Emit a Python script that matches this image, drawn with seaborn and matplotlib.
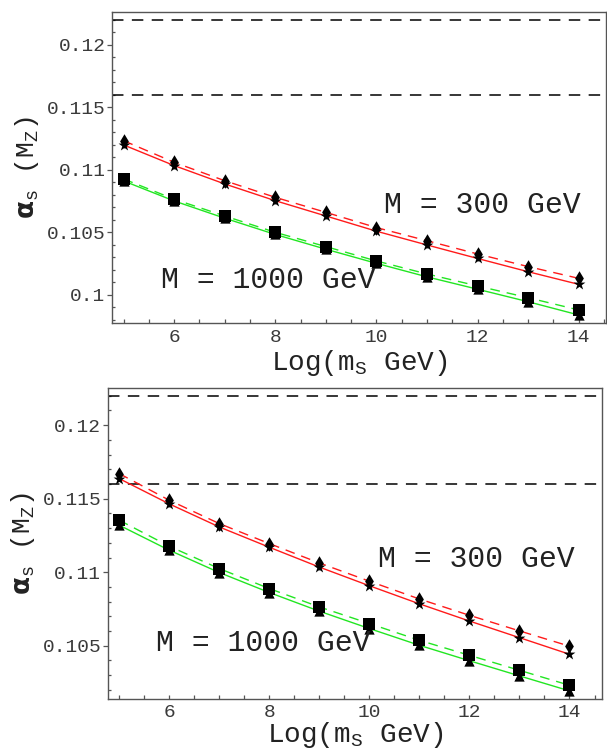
import numpy as np
import pandas as pd
import matplotlib
matplotlib.use("Agg")
import matplotlib.pyplot as plt
import seaborn as sns
from matplotlib.ticker import MultipleLocator

# ---------------- data ----------------
log_ms = [5, 6, 7, 8, 9, 10, 11, 12, 13, 14]

# upper panel
top_diamond = [0.11234, 0.11061, 0.10914, 0.10781, 0.10661, 0.10539, 0.10434, 0.10328, 0.10227, 0.10133]
top_star = [0.11200, 0.11035, 0.10888, 0.10754, 0.10632, 0.10510, 0.10400, 0.10292, 0.10186, 0.10085]
top_square = [0.10928, 0.10766, 0.10632, 0.10501, 0.10387, 0.10272, 0.10168, 0.10072, 0.09978, 0.09880]
top_triangle = [0.10912, 0.10752, 0.10614, 0.10484, 0.10366, 0.10253, 0.10145, 0.10046, 0.09946, 0.09840]

# lower panel
bot_diamond = [0.11671, 0.11490, 0.11331, 0.11195, 0.11063, 0.10939, 0.10818, 0.10707, 0.10601, 0.10497]
bot_star = [0.11637, 0.11465, 0.11308, 0.11170, 0.11035, 0.10908, 0.10785, 0.10668, 0.10555, 0.10442]
bot_square = [0.11354, 0.11177, 0.11025, 0.10889, 0.10764, 0.10651, 0.10537, 0.10435, 0.10333, 0.10231]
bot_triangle = [0.11320, 0.11150, 0.10998, 0.10862, 0.10735, 0.10617, 0.10503, 0.10398, 0.10295, 0.10193]

ref_levels = [0.122, 0.116]

top_yticks = [0.1, 0.105, 0.11, 0.115, 0.12]
top_yticklabels = ["0.1", "0.105", "0.11", "0.115", "0.12"]
bot_yticks = [0.105, 0.11, 0.115, 0.12]
bot_yticklabels = ["0.105", "0.11", "0.115", "0.12"]
xticks = [6, 8, 10, 12, 14]

label_300 = "M = 300 GeV"
label_1000 = "M = 1000 GeV"

# ---------------- style ----------------
sns.set_style("white")
mono = "Liberation Mono"
plt.rcParams["font.family"] = [mono, "DejaVu Sans"]
plt.rcParams["mathtext.fontset"] = "custom"
plt.rcParams["mathtext.rm"] = mono
plt.rcParams["mathtext.it"] = mono
plt.rcParams["mathtext.bf"] = "DejaVu Sans:bold"

RED = "#ff1a1a"
GREEN = "#22e622"
FRAME = "#555555"


def draw_panel(ax, diamond, star, square, triangle, xlim, ylim, yticks, yticklabels,
               txt, xlabelpad, xtickpad):
    df = pd.DataFrame({"x": log_ms, "diamond": diamond, "star": star,
                       "square": square, "triangle": triangle})

    for lv in ref_levels:
        ax.axhline(lv, color="black", lw=1.1, linestyle=(0, (7.5, 5.5)), zorder=1)

    sns.lineplot(data=df, x="x", y="star", color=RED, lw=1.0, ax=ax, zorder=2)
    sns.lineplot(data=df, x="x", y="diamond", color=RED, lw=1.0,
                 linestyle=(0, (7, 5)), ax=ax, zorder=2)
    sns.lineplot(data=df, x="x", y="triangle", color=GREEN, lw=1.0, ax=ax, zorder=2)
    sns.lineplot(data=df, x="x", y="square", color=GREEN, lw=1.0,
                 linestyle=(0, (7, 5)), ax=ax, zorder=2)

    sns.scatterplot(data=df, x="x", y="star", marker="*", s=80, color="black",
                    linewidth=0, ax=ax, zorder=3)
    sns.scatterplot(data=df, x="x", y="diamond", marker="d", s=55, color="black",
                    linewidth=0, ax=ax, zorder=4)
    sns.scatterplot(data=df, x="x", y="triangle", marker="^", s=55, color="black",
                    linewidth=0, ax=ax, zorder=3)
    sns.scatterplot(data=df, x="x", y="square", marker="s", s=72, color="black",
                    linewidth=0, ax=ax, zorder=4)

    ax.set_xlim(*xlim)
    ax.set_ylim(*ylim)

    ax.set_xticks(xticks)
    ax.set_xticklabels([str(t) for t in xticks])
    ax.xaxis.set_minor_locator(MultipleLocator(0.5))
    ax.set_yticks(yticks)
    ax.set_yticklabels(yticklabels)
    ax.yaxis.set_minor_locator(MultipleLocator(0.001))

    ax.tick_params(axis="x", which="both", direction="in", length=3.2, width=0.9,
                   color=FRAME, bottom=True, top=False, labelsize=14,
                   labelcolor="#3a3a3a", pad=xtickpad)
    ax.tick_params(axis="y", which="major", direction="out", length=3.6, width=0.9,
                   color=FRAME, left=True, labelsize=14, labelcolor="#3a3a3a", pad=1)
    ax.tick_params(axis="y", which="minor", direction="in", length=2.5, width=0.9,
                   color=FRAME, left=True)

    for sp in ax.spines.values():
        sp.set_color(FRAME)
        sp.set_linewidth(1.0)

    ax.set_xlabel(r"Log(m$_{\mathrm{S}}$ GeV)", fontsize=20, labelpad=xlabelpad,
                  color="#222222")
    ax.set_ylabel(r"$\mathbf{\alpha}_{\mathrm{s}}$ (M$_{\mathrm{Z}}$)", fontsize=19,
                  labelpad=4, color="#222222")

    for (tx, ty, s) in txt:
        ax.text(tx, ty, s, fontsize=21.5, ha="left", va="baseline", color="#222222")


fig = plt.figure(figsize=(6.07, 7.49), dpi=100)
ax1 = fig.add_axes([0.1845, 0.5688, 0.8138, 0.4156])
ax2 = fig.add_axes([0.1773, 0.0668, 0.8145, 0.4152])

draw_panel(ax1, top_diamond, top_star, top_square, top_triangle,
           (4.77, 14.54), (0.09776, 0.12266), top_yticks, top_yticklabels,
           [(10.14, 0.10653, label_300), (5.73, 0.10053, label_1000)], 1, 4.5)
draw_panel(ax2, bot_diamond, bot_star, bot_square, bot_triangle,
           (4.77, 14.65), (0.10138, 0.12253), bot_yticks, bot_yticklabels,
           [(10.18, 0.11036, label_300), (5.74, 0.10465, label_1000)], -0.5, 3.5)

fig.savefig("out.png", dpi=100)
